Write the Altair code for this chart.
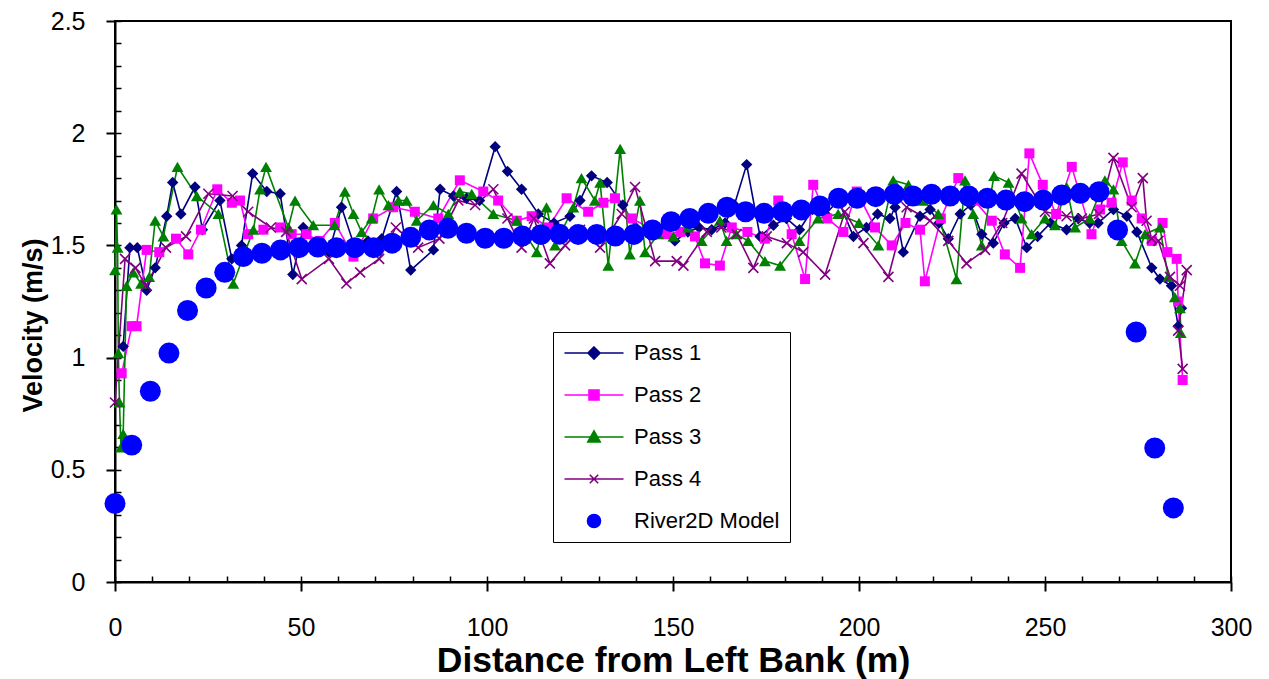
import altair as alt
import pandas as pd

# ---------------- data ----------------
p1_x = [2.2, 4, 6, 8.5, 10.8, 13.9, 15.5, 17.7, 21.5, 23.5, 28.2, 31.4, 34, 37, 40.8, 44.4, 47.8, 50.6,
        54, 57.5, 60.9, 64.5, 68, 71.7, 75.7, 79.5, 85.6, 87.4, 91, 94.5, 98, 102.2, 105.5, 109.3, 113.8,
        118, 122.3, 125, 128.1, 132.3, 136.5, 140, 143.5, 147, 150.5, 154, 157, 160.4, 164, 166.5, 169.8,
        173.4, 177, 180.5, 184, 187.5, 191, 194.5, 198.5, 202, 205, 208.3, 209.7, 211.9, 216.4, 219.1,
        221.5, 224, 227.2, 230, 233, 236.1, 239, 242, 245.1, 248, 251.5, 255.8, 259, 262, 264.3, 268.4,
        272, 274.7, 278.7, 280.9, 284, 285.8, 286.7]
p1_y = [1.05, 1.49, 1.49, 1.30, 1.40, 1.63, 1.78, 1.64, 1.76, 1.57, 1.70, 1.44, 1.50, 1.82, 1.74, 1.73, 1.37, 1.58,
        1.50, 1.47, 1.67, 1.49, 1.52, 1.53, 1.74, 1.39, 1.48, 1.75, 1.72, 1.71, 1.70, 1.94, 1.83, 1.75, 1.64,
        1.60, 1.63, 1.70, 1.81, 1.78, 1.68, 1.58, 1.55, 1.57, 1.52, 1.56, 1.58, 1.57, 1.60, 1.68, 1.86,
        1.54, 1.59, 1.62, 1.57, 1.66, 1.64, 1.70, 1.54, 1.58, 1.64, 1.62, 1.67, 1.47, 1.63, 1.66,
        1.60, 1.53, 1.64, 1.68, 1.55, 1.51, 1.60, 1.62, 1.49, 1.54, 1.60, 1.57, 1.62, 1.60, 1.60, 1.66,
        1.63, 1.56, 1.40, 1.35, 1.32, 1.14, 1.22]

p2_x = [1.8, 4.5, 5.8, 8.5, 11.9, 16.4, 19.7, 23.1, 27.5, 31.4, 33.6, 35.8, 39.9, 44.4, 47.5, 51.5, 55,
        59.1, 64.1, 69.4, 74.8, 80.6, 86.9, 92.7, 99, 103, 108, 112, 116.5, 121.4, 127.2, 131.3, 134.4,
        138.9, 143.5, 148.3, 152, 155.9, 158.6, 162.6, 165.8, 170, 174.7, 178.3, 181.9, 185.5, 187.7,
        191.5, 195.8, 199.4, 204.3, 208.8, 212.5, 216.4, 217.7, 222, 226.7, 231, 235.7, 239.2, 243.3,
        245.8, 249.4, 253, 257.2, 262.5, 264.8, 267.9, 270.9, 273.3, 276, 278.7, 281.6, 282.9, 285.4,
        285.8, 287]
p2_y = [0.93, 1.14, 1.14, 1.48, 1.47, 1.53, 1.46, 1.57, 1.75, 1.69, 1.70, 1.55, 1.57, 1.58, 1.55, 1.55, 1.52,
        1.60, 1.45, 1.62, 1.67, 1.65, 1.62, 1.79, 1.74, 1.70, 1.61, 1.63, 1.58, 1.71, 1.65, 1.69, 1.71,
        1.62, 1.58, 1.55, 1.56, 1.54, 1.42, 1.41, 1.58, 1.56, 1.53, 1.70, 1.55, 1.35, 1.77,
        1.62, 1.56, 1.74, 1.58, 1.50, 1.60, 1.57, 1.34, 1.62, 1.80, 1.70, 1.61, 1.46, 1.40,
        1.91, 1.77, 1.64, 1.85, 1.55, 1.66, 1.69, 1.87, 1.70, 1.62, 1.52, 1.60, 1.47, 1.44,
        1.25, 0.90]

p3_x = [0, 0.4, 0.7, 0.9, 1.2, 1.6, 2.2, 3.1, 4.9, 7, 9.2, 10.8, 13, 16.8, 22, 27.8, 31.8, 37.2, 39, 40.6,
        46.6, 48.4, 53.3, 59, 61.8, 64.1, 66.3, 69, 71, 73.5, 76.2, 78.4, 81.1, 85.6, 89.6, 92.7, 95.9,
        101.7, 108, 113.4, 116, 118.3, 123.2, 125.4, 129, 130.4, 132.6, 135.8, 138.4, 141.1, 142.5, 146,
        150.1, 154, 157.7, 162.6, 164.4, 167, 170.2, 174.7, 178.8, 184, 189, 194.4, 200, 205.2, 209.2,
        213.3, 217, 221.3, 226.2, 228.5, 230.7, 233, 236.3, 240.2, 243.7, 246.4, 250, 252.7, 255.8,
        258.1, 262, 266.1, 268.4, 270.6, 274.2, 276.9, 280.9, 283.1, 284.9, 286.3, 286.5]
p3_y = [1.39, 1.66, 1.49, 1.02, 0.80, 0.60, 0.66, 1.32, 1.38, 1.33, 1.36, 1.61, 1.54, 1.85, 1.72, 1.64, 1.33, 1.57, 1.75, 1.85,
        1.58, 1.70, 1.59, 1.59, 1.74, 1.64, 1.56, 1.62, 1.75, 1.68, 1.70, 1.70, 1.61, 1.68, 1.64, 1.74, 1.73,
        1.64, 1.61, 1.47, 1.67, 1.50, 1.67, 1.80, 1.70, 1.78, 1.41, 1.93, 1.46, 1.70, 1.47, 1.55,
        1.54, 1.58, 1.52, 1.61, 1.52, 1.55, 1.52, 1.43, 1.41, 1.52, 1.62, 1.64, 1.60, 1.50, 1.79,
        1.77, 1.70, 1.64, 1.35, 1.79, 1.64, 1.50, 1.81, 1.78, 1.62, 1.55, 1.62, 1.59, 1.76,
        1.58, 1.62, 1.79, 1.75, 1.52, 1.42, 1.55, 1.58, 1.36, 1.27, 1.22, 1.11]

p4_x = [0, 2.7, 5.5, 8.3, 13.7, 19.1, 25.1, 31.6, 35.8, 41.9, 46, 50.2, 57.5, 62.2, 65.9, 71, 75.5, 81.5,
        87.2, 92.3, 96.8, 101.7, 105.5, 109.3, 112.6, 116.9, 121, 125, 130.4, 136.2, 139.8, 145.2, 151,
        152.8, 159.1, 163, 167.1, 171.6, 175.2, 180.6, 185, 190.9, 196.2, 201.2, 207.9, 212.8, 219.1, 224,
        228.9, 233.9, 238.5, 243.7, 250, 255.8, 259.9, 264.5, 268.4, 273.3, 276.3, 277.3, 278.7, 280.5,
        283.6, 286.3, 288.1, 285.8, 287]
p4_y = [0.80, 1.44, 1.40, 1.32, 1.49, 1.54, 1.73, 1.72, 1.65, 1.58, 1.56, 1.35, 1.44, 1.33, 1.38, 1.44, 1.58, 1.49,
        1.53, 1.70, 1.68, 1.75, 1.62, 1.49, 1.62, 1.42, 1.50, 1.57, 1.49, 1.64, 1.76, 1.43, 1.43,
        1.41, 1.56, 1.58, 1.55, 1.40, 1.54, 1.51, 1.47, 1.37, 1.65, 1.51, 1.36, 1.67, 1.61, 1.52,
        1.42, 1.48, 1.60, 1.82, 1.65, 1.63, 1.62, 1.64, 1.89, 1.67, 1.80, 1.61, 1.53, 1.52,
        1.36, 1.32, 1.39, 1.12, 0.95]

model_x = [0, 4.5, 9.5, 14.5, 19.5, 24.5, 29.5, 34.5, 39.5, 44.5, 49.5, 54.5, 59.5, 64.5, 69.5, 74.5,
           79.5, 84.5, 89.5, 94.5, 99.5, 104.5, 109.5, 114.5, 119.5, 124.5, 129.5, 134.5, 139.5, 144.5,
           149.5, 154.5, 159.5, 164.5, 169.5, 174.5, 179.5, 184.5, 189.5, 194.5, 199.5, 204.5, 209.5,
           214.5, 219.5, 224.5, 229.5, 234.5, 239.5, 244.5, 249.5, 254.5, 259.5, 264.5, 269.5, 274.5,
           279.5, 284.5]
model_y = [0.35, 0.61, 0.85, 1.02, 1.21, 1.31, 1.38, 1.45, 1.465, 1.48, 1.49, 1.493, 1.49, 1.49, 1.49, 1.51,
           1.536, 1.569, 1.576, 1.554, 1.532, 1.532, 1.542, 1.548, 1.55, 1.549, 1.549, 1.542, 1.549, 1.569,
           1.606, 1.62, 1.643, 1.67, 1.65, 1.643, 1.65, 1.658, 1.676, 1.71, 1.71, 1.717, 1.728,
           1.72, 1.728, 1.72, 1.72, 1.71, 1.702, 1.695, 1.702, 1.725, 1.732, 1.739, 1.569, 1.114,
           0.597, 0.33]

series_names = ["Pass 1", "Pass 2", "Pass 3", "Pass 4", "River2D Model"]
series_colors = ["#000080", "#FF00FF", "#008000", "#800080", "#0000FF"]
x_ticks = [0, 50, 100, 150, 200, 250, 300]
x_minor = [0, 10, 20, 30, 40, 50, 60, 70, 80, 90, 100, 110, 120, 130, 140, 150, 160, 170, 180, 190,
           200, 210, 220, 230, 240, 250, 260, 270, 280, 290, 300]
y_ticks = [0, 0.5, 1, 1.5, 2, 2.5]
y_minor = [0, 0.1, 0.2, 0.3, 0.4, 0.5, 0.6, 0.7, 0.8, 0.9, 1.0, 1.1, 1.2, 1.3, 1.4, 1.5, 1.6, 1.7,
           1.8, 1.9, 2.0, 2.1, 2.2, 2.3, 2.4, 2.5]

# legend symbols: line + marker, as custom paths
legend_paths = [
    "M-2.95,0H2.95M0,-0.6L0.6,0L0,0.6L-0.6,0Z",
    "M-2.95,0H2.95M-0.5,-0.5H0.5V0.5H-0.5Z",
    "M-2.95,0H2.95M0,-0.6L0.62,0.5L-0.62,0.5Z",
    "M-2.95,0H2.95M-0.42,-0.42L0.42,0.42M-0.42,0.42L0.42,-0.42",
    "M0.65,0A0.65,0.65,0,1,1,-0.65,0A0.65,0.65,0,1,1,0.65,0Z",
]

rows = []
for name, xs_, ys_ in [("Pass 1", p1_x, p1_y), ("Pass 2", p2_x, p2_y), ("Pass 3", p3_x, p3_y),
                       ("Pass 4", p4_x, p4_y), ("River2D Model", model_x, model_y)]:
    for i, (xv, yv) in enumerate(zip(xs_, ys_)):
        rows.append({"series": name, "x": xv, "y": yv, "i": i})
df = pd.DataFrame(rows)
passes = df[df.series != "River2D Model"]
model = df[df.series == "River2D Model"]
legend_df = df.groupby("series", as_index=False).first()

W, H = 1116, 561
FONT = "Liberation Sans"
xscale = alt.Scale(domain=[0, 300], nice=False, zero=False)
yscale = alt.Scale(domain=[0, 2.5], nice=False)
cscale = alt.Scale(domain=series_names, range=series_colors)

x_main = alt.X("x:Q", scale=xscale, axis=alt.Axis(
    values=x_ticks, title="Distance from Left Bank (m)", grid=False, labelFlush=False,
    domainColor="black", domainWidth=2, tickColor="black", tickWidth=2, tickSize=9,
    labelFont=FONT, labelFontSize=25, labelColor="black", labelPadding=24,
    titleFont=FONT, titleFontSize=35.5, titleFontWeight="bold", titleColor="black",
    titleY=78, titleBaseline="middle"))
y_main = alt.Y("y:Q", scale=yscale, axis=alt.Axis(
    values=y_ticks, format="~g", title="Velocity (m/s)", grid=False, labelFlush=False,
    domainColor="black", domainWidth=2, tickColor="black", tickWidth=2, tickSize=9,
    labelFont=FONT, labelFontSize=25, labelColor="black", labelPadding=21,
    titleFont=FONT, titleFontSize=27, titleFontWeight="bold", titleColor="black",
    titleX=-82, titleY=304, titleBaseline="middle", titleAngle=270))
x_none = alt.X("x:Q", scale=xscale, axis=None)
y_none = alt.Y("y:Q", scale=yscale, axis=None)

lines = alt.Chart(passes).mark_line(strokeWidth=1.6).encode(
    x=x_main, y=y_main,
    color=alt.Color("series:N", scale=cscale, legend=None),
    order="i:Q")

marker_layers = []
for name, shape, size in [("Pass 1", "diamond", 130), ("Pass 2", "square", 100), ("Pass 3", "triangle-up", 140)]:
    col = series_colors[series_names.index(name)]
    marker_layers.append(
        alt.Chart(passes[passes.series == name]).mark_point(
            filled=True, shape=shape, size=size, color=col, opacity=1, strokeWidth=0
        ).encode(x=x_none, y=y_none))
marker_layers.append(
    alt.Chart(passes[passes.series == "Pass 4"]).mark_point(
        filled=False, shape="M-1,-1L1,1M-1,1L1,-1", size=100, color=series_colors[3],
        strokeWidth=1.6, opacity=1
    ).encode(x=x_none, y=y_none))

model_layer = alt.Chart(model).mark_circle(size=440, color=series_colors[4], opacity=1).encode(
    x=x_none, y=y_none)

leg = alt.Legend(title=None, orient="none", legendX=438, legendY=311, direction="vertical",
                 strokeColor="black", fillColor="white", padding=10,
                 symbolSize=400, symbolStrokeWidth=1.6, symbolOffset=20, labelOffset=29,
                 symbolOpacity=1,
                 labelFont=FONT, labelFontSize=22, labelColor="black", rowPadding=20)
legend_layer = alt.Chart(legend_df).mark_point(filled=True, opacity=0).encode(
    x=x_none, y=y_none,
    fill=alt.Fill("series:N", scale=cscale, legend=leg),
    stroke=alt.Stroke("series:N", scale=cscale, legend=leg),
    shape=alt.Shape("series:N", scale=alt.Scale(domain=series_names, range=legend_paths), legend=leg))

tick_layer = alt.Chart(model).mark_point(opacity=0).encode(
    x=alt.X("x:Q", scale=xscale, axis=alt.Axis(
        orient="top", offset=-H, values=x_minor, labels=False, domain=False, grid=False,
        tickColor="black", tickWidth=1.5, tickSize=6, title=None)),
    y=alt.Y("y:Q", scale=yscale, axis=alt.Axis(
        orient="right", offset=-W, values=y_minor, labels=False, domain=False, grid=False,
        tickColor="black", tickWidth=1.5, tickSize=6, title=None)))

chart = alt.layer(lines, *marker_layers, model_layer, legend_layer, tick_layer).resolve_scale(
    shape="independent", color="independent", fill="independent", stroke="independent"
).resolve_axis(x="independent", y="independent").properties(
    width=W, height=H,
    autosize=alt.AutoSizeParams(type="none"),
    padding={"left": 115, "top": 21, "right": 38, "bottom": 97},
    background="white",
).configure_view(stroke="black", strokeWidth=2)

chart.save("out.html", embed_options={"renderer": "svg", "actions": False})
